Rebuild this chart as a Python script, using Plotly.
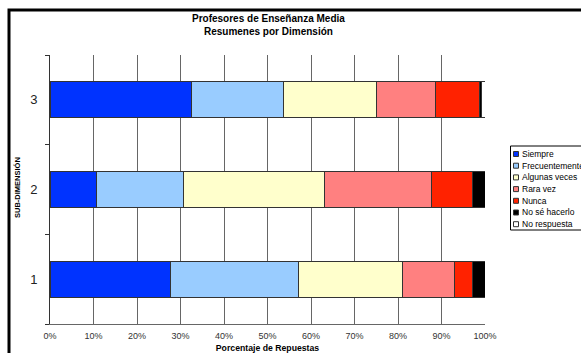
import plotly.graph_objects as go

categories = [1, 2, 3]
series_names = ["Siempre", "Frecuentemente", "Algunas veces", "Rara vez", "Nunca", "No sé hacerlo", "No respuesta"]
siempre = [27.6, 10.6, 32.5]
frecuentemente = [29.5, 20.1, 21.2]
algunas_veces = [23.9, 32.3, 21.3]
rara_vez = [12.1, 24.6, 13.7]
nunca = [4.1, 9.6, 10.0]
no_se = [2.8, 2.8, 0.4]
no_respuesta = [0.0, 0.0, 0.9]
x_ticks = list(range(0, 101, 10))
colors = ["#0033FF", "#99CCFF", "#FFFFCC", "#FF8080", "#FF2200", "#000000", "#FFFFFF"]

values = [siempre, frecuentemente, algunas_veces, rara_vez, nunca, no_se, no_respuesta]

FONT = "Liberation Sans, Arial, sans-serif"
fig = go.Figure()
for name, vals, col in zip(series_names, values, colors):
    fig.add_trace(go.Bar(
        y=categories, x=vals, name=name, orientation="h", width=0.4,
        marker=dict(color=col, line=dict(color="#333333", width=1)),
    ))

W, H = 581, 353
L, R, T, B = 50, 96, 55, 29
pw, ph = W - L - R, H - T - B

def px_x(p):
    return (p - L) / pw

def px_y(p):
    return (H - B - p) / ph

shapes = [dict(type="rect", xref="paper", yref="paper",
               x0=px_x(9), x1=px_x(600), y0=px_y(10), y1=px_y(370),
               line=dict(color="#000000", width=3), fillcolor="rgba(0,0,0,0)", layer="above")]
annotations = [
    dict(text="<b>Profesores de Enseñanza Media</b><br><b>Resumenes por Dimensión</b>",
         xref="paper", yref="paper", x=px_x(268), y=px_y(25), xanchor="center", yanchor="middle",
         showarrow=False, font=dict(family=FONT, size=10, color="#000000")),
    dict(text="<b>SUB-DIMENSIÓN</b>", textangle=-90,
         xref="paper", yref="paper", x=px_x(17), y=px_y(188), xanchor="center", yanchor="middle",
         showarrow=False, font=dict(family=FONT, size=7.5, color="#000000")),
]

# custom legend (compact, like the original)
leg_left, leg_top, leg_bottom = 510.5, 146, 230
shapes.append(dict(type="rect", xref="paper", yref="paper",
                   x0=px_x(leg_left), x1=px_x(620), y0=px_y(leg_top), y1=px_y(leg_bottom),
                   line=dict(color="#000000", width=1), fillcolor="white", layer="above"))
for i, (name, col) in enumerate(zip(series_names, colors)):
    cy = 154 + i * 11.7
    shapes.append(dict(type="rect", xref="paper", yref="paper",
                       x0=px_x(513.5), x1=px_x(518.5), y0=px_y(cy - 2.5), y1=px_y(cy + 2.5),
                       line=dict(color="#333333", width=1), fillcolor=col, layer="above"))
    annotations.append(dict(text=name, xref="paper", yref="paper",
                            x=px_x(519.5), y=px_y(cy), xanchor="left", yanchor="middle",
                            showarrow=False, font=dict(family=FONT, size=8.5, color="#000000")))

fig.update_layout(
    width=W, height=H,
    margin=dict(l=L, r=R, t=T, b=B, autoexpand=False),
    barmode="stack",
    paper_bgcolor="white", plot_bgcolor="white",
    font=dict(family=FONT, size=8, color="#222222"),
    showlegend=False,
    xaxis=dict(
        range=[0, 100], tickvals=x_ticks, ticktext=[f"{v}%" for v in x_ticks],
        showgrid=True, gridcolor="#666666", gridwidth=1,
        showline=True, linecolor="#666666", linewidth=1,
        ticks="", zeroline=False, ticklabelstandoff=3,
        tickfont=dict(family=FONT, size=9, color="#333333"),
        title=dict(text="<b>Porcentaje de Repuestas</b>", font=dict(family=FONT, size=8.7, color="#000000"), standoff=7),
    ),
    yaxis=dict(
        range=[0.5, 3.5], tickvals=categories, ticktext=[str(c) for c in categories],
        showgrid=False, zeroline=False,
        showline=True, linecolor="#333333", linewidth=1,
        ticks="", ticklabelstandoff=9,
        tickfont=dict(family=FONT, size=13, color="#222222"),
        minor=dict(tickvals=[0.5, 1.5, 2.5, 3.5], ticks="outside", ticklen=4, tickcolor="#333333", showgrid=False),
    ),
    shapes=shapes,
    annotations=annotations,
)

fig.write_html("out.html")
